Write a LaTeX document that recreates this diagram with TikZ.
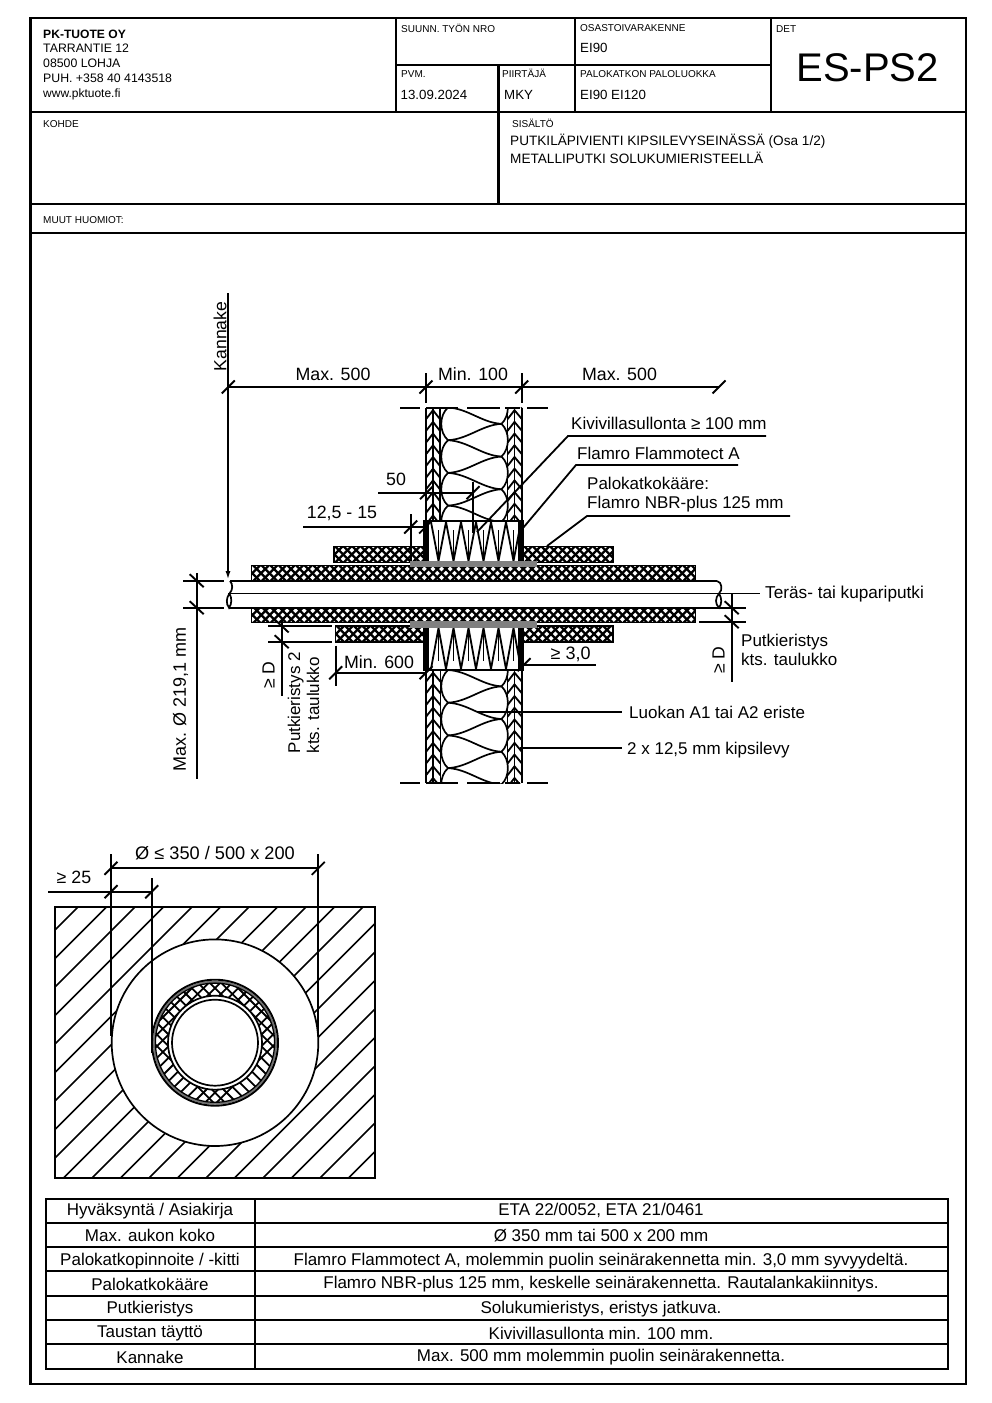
\documentclass[tikz,border=0pt]{standalone}
\usepackage{fontspec}
\setmainfont{Liberation Sans}
\usetikzlibrary{arrows.meta}
\newcommand{\fs}[1]{\fontsize{#1pt}{#1pt}\selectfont}
\tikzset{
  frame/.style={line width=2.8pt,line cap=rect},
  cell/.style={line width=2.3pt,line cap=rect},
  dimline/.style={line width=1.8pt},
  tick/.style={line width=1.9pt},
  wall/.style={line width=1.9pt},
  chev/.style={line width=1.8pt},
  wool/.style={line width=1.7pt},
  hatch/.style={line width=1.7pt},
  gridline/.style={line width=2pt,line cap=rect},
  tiny/.style={font=\fs{10},anchor=base west,inner sep=0pt},
  head/.style={font=\fs{12.3},anchor=base west,inner sep=0pt},
  val/.style={font=\fs{13.3},anchor=base west,inner sep=0pt},
  dim/.style={font=\fs{17.6},anchor=base west,inner sep=0pt},
  dimc/.style={font=\fs{17.8},anchor=base,inner sep=0pt},
  dimr/.style={font=\fs{17.6},inner sep=0pt,rotate=90},
  lab/.style={font=\fs{17},anchor=base west,inner sep=0pt},
  labr/.style={font=\fs{17},inner sep=0pt,rotate=90,anchor=base west},
  tab/.style={font=\fs{17},anchor=base,inner sep=0pt},
}
\newcommand{\xband}[4]{%
  \fill[white] (#1,#2) rectangle (#3,#4);
  \begin{scope}
    \clip (#1,#2) rectangle (#3,#4);
    \pgfmathsetmacro\hh{#4-#2}
    \pgfmathtruncatemacro\nn{(#3-#1+\hh)/8.6+1}
    \foreach \i in {0,...,\nn}{
      \pgfmathsetmacro\xx{#1-\hh+\i*8.6}
      \draw[line width=2.3pt] (\xx,#2) -- ++(\hh,\hh);
      \draw[line width=2.3pt] (\xx+\hh,#2) -- ++(-\hh,\hh);
    }
  \end{scope}
  \draw[line width=1.9pt] (#1,#2) rectangle (#3,#4);
}
\newcommand{\tk}[2]{\draw[tick] (#1-6.5,#2+6.5) -- (#1+6.5,#2-6.5);}
\newcommand{\tkb}[2]{\draw[tick] (#1-7,#2-6.5) -- (#1+7,#2+6.5);}
\newcommand{\leaf}[5]{% x0 xm x1 ytop ybot
  \begin{scope}
    \clip (#1,#4) rectangle (#3,#5);
    \foreach \i in {0,...,12}{
      \pgfmathsetmacro\yy{#4-9+\i*11.7}
      \draw[chev] (#1,\yy+9) -- (#2,\yy) -- (#3,\yy+9);
    }
  \end{scope}
  \draw[wall] (#1,#4) -- (#1,#5) (#2,#4) -- (#2,#5) (#3,#4) -- (#3,#5);
}
\newcommand{\woolfill}[3]{% yL0 ytop ybot
  \begin{scope}
    \clip (440,#2) rectangle (509,#3);
    \foreach \i in {-1,...,4}{
      \pgfmathsetmacro\yl{#1+\i*32.7}
      \pgfmathsetmacro\yr{\yl+16.35}
      \pgfmathsetmacro\yq{\yl-16.35}
      \pgfmathsetmacro\yn{\yl+32.7}
      \draw[wool] (448,\yl) .. controls (468,\yl+1) and (482,\yr-1) .. (501.5,\yr);
      \draw[wool] (448,\yl) .. controls (468,\yl-1) and (482,\yq+1) .. (501.5,\yq);
      \draw[wool] (448,\yl) .. controls (439,\yl+8) and (439,\yn-8) .. (448,\yn);
      \draw[wool] (501.5,\yr) .. controls (510,\yr+8) and (510,\yr+24.7) .. (501.5,\yr+32.7);
    }
  \end{scope}
}
\newcommand{\wrap}[4]{% ytop ybot far near
  \foreach \i in {0,...,5}{
    \pgfmathsetmacro\xa{431+\i*15}
    \draw[line width=1.8pt] (\xa,#3) -- (\xa+7.5,#4) -- (\xa+15,#3);
    \draw[line width=1.9pt] (\xa+7.5,#4) -- (\xa+7.5,{#4+(#3-#4)*0.8});
  }
  \fill (423.2,#1) rectangle (428.6,#2);
  \fill (518.4,#1) rectangle (523.8,#2);
}
\newcommand{\dashrow}[1]{\draw[line width=2pt] (400,#1) -- (420,#1) (426,#1) -- (458,#1) (467,#1) -- (500,#1) (505,#1) -- (520,#1) (527,#1) -- (548,#1);}
\begin{document}
\begin{tikzpicture}[x=1pt,y=-1pt]
\useasboundingbox (0,0) rectangle (992,1403);
\fill[white] (0,0) rectangle (992,1403);
% ---- frame and title block
\draw[frame] (30.5,18) rectangle (966,1384);
\draw[frame] (30.5,112) -- (966,112) (30.5,204) -- (966,204) (30.5,233) -- (966,233);
\draw[cell] (396,18) -- (396,112) (575,18) -- (575,112) (771,18) -- (771,112);
\draw[cell] (396,65) -- (771,65) (498.5,65) -- (498.5,204);
\node[font=\bfseries\fs{12.1},anchor=base west,inner sep=0pt] (co) at (43,38) {PK-TUOTE OY};
\node[head] (co1) at (43,52) {TARRANTIE 12};
\node[head] (co2) at (43,67) {08500 LOHJA};
\node[head] (co3) at (43,82) {PUH. +358 40 4143518};
\node[head,font=\fs{12}] (co4) at (43,97) {www.pktuote.fi};
\node[tiny] (t1) at (401,32) {SUUNN. TYÖN NRO};
\node[tiny] (t2) at (580,31) {OSASTOIVARAKENNE};
\node[val] (t2v) at (580,52.5) {EI90};
\node[tiny] (t3) at (776,32) {DET};
\node[font=\fs{40},anchor=base,inner sep=0pt] (det) at (867.5,81.5) {ES-PS2};
\node[tiny] (t4) at (401,77) {PVM.};
\node[val] (t4v) at (400.5,99.5) {13.09.2024};
\node[tiny] (t5) at (502,77) {PIIRTÄJÄ};
\node[val] (t5v) at (504,99.5) {MKY};
\node[tiny] (t6) at (580,77) {PALOKATKON PALOLUOKKA};
\node[val] (t6v) at (580,99.5) {EI90 EI120};
\node[tiny] (t7) at (43,127) {KOHDE};
\node[tiny] (t8) at (512,127) {SISÄLTÖ};
\node[val,font=\fs{13.6}] (t8a) at (510,145) {PUTKILÄPIVIENTI KIPSILEVYSEINÄSSÄ (Osa 1/2)};
\node[val,font=\fs{13.6}] (t8b) at (510,163) {METALLIPUTKI SOLUKUMIERISTEELLÄ};
\node[tiny] (t9) at (43,223) {MUUT HUOMIOT:};
% ---- section drawing: walls
\woolfill{407.5}{407.5}{521}
\woolfill{670}{670}{783}
\leaf{426}{433}{440}{407.5}{521}
\leaf{507.5}{514.5}{522}{407.5}{521}
\leaf{426}{433}{440.5}{670}{783}
\leaf{507.5}{514.5}{522}{670}{783}
\dashrow{407.5}
\dashrow{783}
% bands
\xband{334}{546.5}{613}{562.5}
\xband{335.5}{626}{613}{642}
\xband{251.5}{565.5}{695.5}{581}
\xband{251.5}{607.5}{695.5}{622.5}
% wrap
\fill[white] (423,521) rectangle (524,562);
\fill[white] (423,627) rectangle (524,670);
\draw[line width=1.8pt] (423,521) -- (524,521);
\draw[line width=1.8pt] (423,670) -- (524,670);
\wrap{521}{565}{522}{561}
\wrap{627}{670}{669}{628}
\fill[black!50] (410,561) rectangle (537,567);
\fill[black!50] (410,621) rectangle (537,627.5);
% pipe
\draw[line width=1.9pt] (230,581) -- (717,581) (228,593.5) -- (760,593.5) (229,607.7) -- (722,607.7);
\draw[line width=1.7pt] (230,581) .. controls (233,584) and (233,590) .. (229.5,593.5)
  .. controls (232,598) and (232,604) .. (229,607.7)
  .. controls (226,604) and (226,598) .. (229.5,593.5);
\draw[line width=1.7pt] (717,581) .. controls (722,582) and (723,590) .. (719,593.5)
  .. controls (722,598) and (722,604) .. (719,607.7)
  .. controls (715,604) and (715,598) .. (719,593.5);
% ---- dimensions top
\draw[dimline] (228,293) -- (228,387);
\draw[dimline,-{Latex[length=9pt,width=5pt]}] (228,387) -- (228,580);
\draw[dimline] (228,387) -- (719,387);
\draw[dimline] (426,373) -- (426,403) (521.7,373) -- (521.7,403);
\tk{228.3}{387}\tk{426}{387}\tk{521.7}{387}\tk{719}{387}
\node[dimr] (kann) at (220,336.5) {Kannake};
\node[dimc] (m1) at (333,380) {Max. 500};
\node[dimc] (m2) at (473,380) {Min. 100};
\node[dimc] (m3) at (619.5,380) {Max. 500};
% leaders
\draw[dimline] (766,436) -- (568,436) -- (477,532);
\draw[dimline] (738,465) -- (576,465) -- (523,528);
\draw[dimline] (790,516) -- (587,516) -- (547,546);
\node[lab] (l1) at (571,429) {Kivivillasullonta ≥ 100 mm};
\node[lab] (l2) at (577,459) {Flamro Flammotect A};
\node[lab] (l3) at (587,489) {Palokatkokääre:};
\node[lab] (l3b) at (587,508) {Flamro NBR-plus 125 mm};
% 50
\draw[dimline] (378,492.7) -- (473,492.7) (473,481.7) -- (473,533);
\tk{426.5}{492.7}\tk{473}{492.7}
\node[dimc] (d50) at (396,485) {50};
% 12,5 - 15
\draw[dimline] (303,527) -- (425,527) (410.7,514) -- (410.7,561);
\tk{410.7}{527}\tk{425.6}{527}
\node[dimc] (d125) at (342,518) {12,5 - 15};
% pipe dia left
\draw[dimline] (183,580.7) -- (224,580.7) (183,607.7) -- (224,607.7) (196.7,573) -- (196.7,779);
\tkb{196.7}{580.7}\tkb{196.7}{607.7}
\node[dimr,font=\fs{18}] (dmax) at (180.5,699.5) {Max. Ø 219,1 mm};
% >=D left
\draw[dimline] (268,626) -- (331.7,626) (268,641.7) -- (331.7,641.7) (281.7,618) -- (281.7,696);
\tkb{281.7}{626}\tkb{281.7}{641.7}
\node[dimr] (gd1) at (268.5,675) {≥ D};
\node[labr] (p2a) at (300,753.5) {Putkieristys 2};
\node[labr] (p2b) at (319,753.5) {kts. taulukko};
% Min 600
\draw[dimline] (335.7,672.7) -- (426,672.7) (335.7,645.7) -- (335.7,686);
\tk{335.7}{672.7}\tk{426}{672.7}
\node[dimc] (d600) at (379,668.5) {Min. 600};
% >=3,0
\draw[dimline] (523,664.7) -- (596,664.7);
\tk{524}{664.7}
\node[lab,font=\fs{18}] (d30) at (550.5,659) {≥ 3,0};
% right
\node[lab,font=\fs{17.2}] (pipe) at (765,598.7) {Teräs- tai kupariputki};
\draw[dimline] (731.7,593.5) -- (731.7,681.7) (722,607.7) -- (746,607.7) (699,621.7) -- (746,621.7);
\tkb{731.7}{607.7}\tkb{731.7}{621.7}
\node[dimr] (gd2) at (718.5,660) {≥ D};
\node[lab] (p1a) at (741,646) {Putkieristys};
\node[lab] (p1b) at (741,665) {kts. taulukko};
\draw[dimline] (476.7,711.7) -- (621.7,711.7) (520,748.3) -- (621.7,748.3);
\node[lab] (l4) at (629,718) {Luokan A1 tai A2 eriste};
\node[lab] (l5) at (627,754) {2 x 12,5 mm kipsilevy};
% ---- plan view
\begin{scope}
  \clip (55,906.7) rectangle (375,1178.3);
  \foreach \i in {-1,...,19}{
    \pgfmathsetmacro\xx{78.3+\i*28.5}
    \draw[hatch] (\xx,906.7) -- ++(-290,290);
  }
\end{scope}
\draw[line width=1.9pt] (55,906.7) rectangle (375,1178.3);
\filldraw[fill=white,line width=1.7pt] (215,1042.7) circle[radius=103.3];
\draw[dimline] (111,854) -- (111,1036) (318.3,854) -- (318.3,1036) (151.7,878) -- (151.7,1053);
\draw[dimline] (111,868.3) -- (318.3,868.3) (48,891.7) -- (151.7,891.7);
\tk{111}{868.3}\tk{318.3}{868.3}\tk{111}{891.7}\tk{151.7}{891.7}
\node[dimc,font=\fs{18.2}] (dcirc) at (215,859) {Ø ≤ 350 / 500 x 200};
\node[dimc] (d25) at (74,883) {≥ 25};
\fill[white] (215,1042.7) circle[radius=63];
\begin{scope}
  \clip (215,1042.7) circle[radius=60.5];
  \foreach \i in {-12,...,12}{
    \pgfmathsetmacro\xx{215+\i*11.6}
    \draw[line width=1.8pt] (\xx,965) -- ++(78,78) -- ++(78,78);
    \draw[line width=1.8pt] (\xx,965) -- ++(-78,78) -- ++(-78,78);
  }
\end{scope}
\filldraw[fill=white,line width=1.7pt] (215,1042.7) circle[radius=47];
\draw[line width=1.7pt] (215,1042.7) circle[radius=43];
\draw[line width=2pt,black!55] (215,1042.7) circle[radius=61];
\draw[line width=1.9pt] (215,1042.7) circle[radius=63];
\draw[line width=1.3pt] (215,1042.7) circle[radius=59.6];
% ---- table
\draw[gridline] (46,1199) rectangle (948,1369);
\draw[gridline] (255,1199) -- (255,1369);
\foreach \yy in {1222.7,1247.3,1271.2,1296,1320,1344.3}{
  \draw[gridline] (46,\yy) -- (948,\yy);
}
\node[tab] (a1) at (150,1215) {Hyväksyntä / Asiakirja};
\node[tab] (a2) at (150,1241) {Max. aukon koko};
\node[tab] (a3) at (150,1265) {Palokatkopinnoite / -kitti};
\node[tab] (a4) at (150,1290) {Palokatkokääre};
\node[tab] (a5) at (150,1313) {Putkieristys};
\node[tab] (a6) at (150,1337) {Taustan täyttö};
\node[tab] (a7) at (150,1363) {Kannake};
\node[tab] (b1) at (601,1215) {ETA 22/0052, ETA 21/0461};
\node[tab] (b2) at (601,1241) {Ø 350 mm tai 500 x 200 mm};
\node[tab] (b3) at (601,1265) {Flamro Flammotect A, molemmin puolin seinärakennetta min. 3,0 mm syvyydeltä.};
\node[tab] (b4) at (601,1288) {Flamro NBR-plus 125 mm, keskelle seinärakennetta. Rautalankakiinnitys.};
\node[tab] (b5) at (601,1313) {Solukumieristys, eristys jatkuva.};
\node[tab] (b6) at (601,1339) {Kivivillasullonta min. 100 mm.};
\node[tab] (b7) at (601,1361) {Max. 500 mm molemmin puolin seinärakennetta.};
\end{tikzpicture}
\end{document}
